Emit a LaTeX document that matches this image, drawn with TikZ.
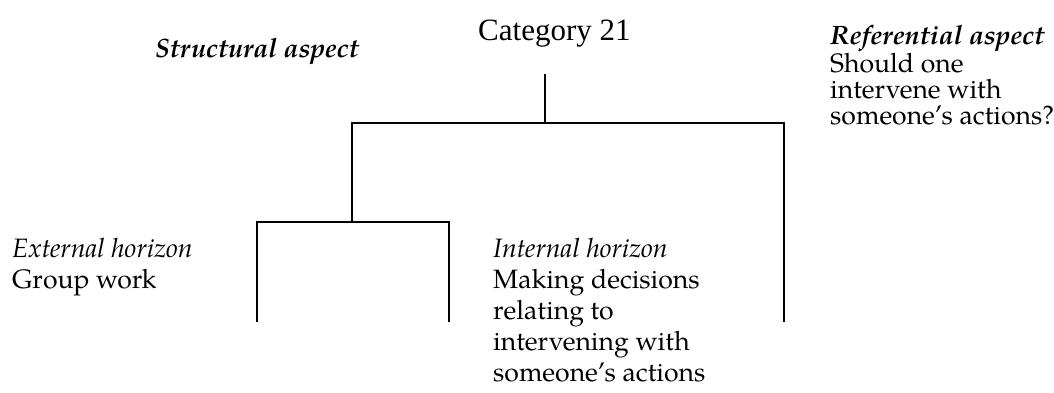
\documentclass[tikz,border=0pt]{standalone}
\usepackage{fontspec}
\setmainfont{texgyrepagella}[Extension=.otf, UprightFont=*-regular, BoldFont=*-bold, ItalicFont=*-italic, BoldItalicFont=*-bolditalic]
\newfontfamily\timesfont{Liberation Serif}
\usepackage{tikz}
\usetikzlibrary{positioning}

\begin{document}
\begin{tikzpicture}[x=1pt, y=-1pt,
  txt/.style={anchor=base west, inner sep=0pt, align=left, font=\fontsize{26.6}{31}\selectfont},
  tight/.style={txt, font=\fontsize{26.6}{26}\selectfont},
  head/.style={anchor=base west, inner sep=0pt, font=\timesfont\fontsize{31}{31}\selectfont},
  branch/.style={line width=2pt}
]
  \useasboundingbox (0,0) rectangle (1054,392);

  % multi-line nodes sit on the baseline of their last line
  \node[head] (cat) at (478,40) {Category 21};
  \node[txt] (struct) at (155,57) {\textbf{\textit{Structural aspect}}};
  \node[tight] (ref) at (830,124) {\textbf{\textit{Referential aspect}}\\Should one\\intervene with\\someone's actions?};
  \node[txt] (ext) at (12,288) {\textit{External horizon}\\Group work};
  \node[txt] (int) at (493,381) {\textit{Internal horizon}\\Making decisions\\relating to\\intervening with\\someone's actions};

  \coordinate (stem) at (545,74);
  \coordinate (bar) at (545,123);
  \coordinate (barL) at (352,123);
  \coordinate (legR) at (784,322);
  \coordinate (sub) at (352,222);
  \coordinate (subL) at (257,322);
  \coordinate (subR) at (449,322);

  \draw[branch] (stem) -- (bar);
  \draw[branch] (legR) |- (barL) -- (sub);
  \draw[branch] (subL) |- (sub) -| (subR);
\end{tikzpicture}
\end{document}
